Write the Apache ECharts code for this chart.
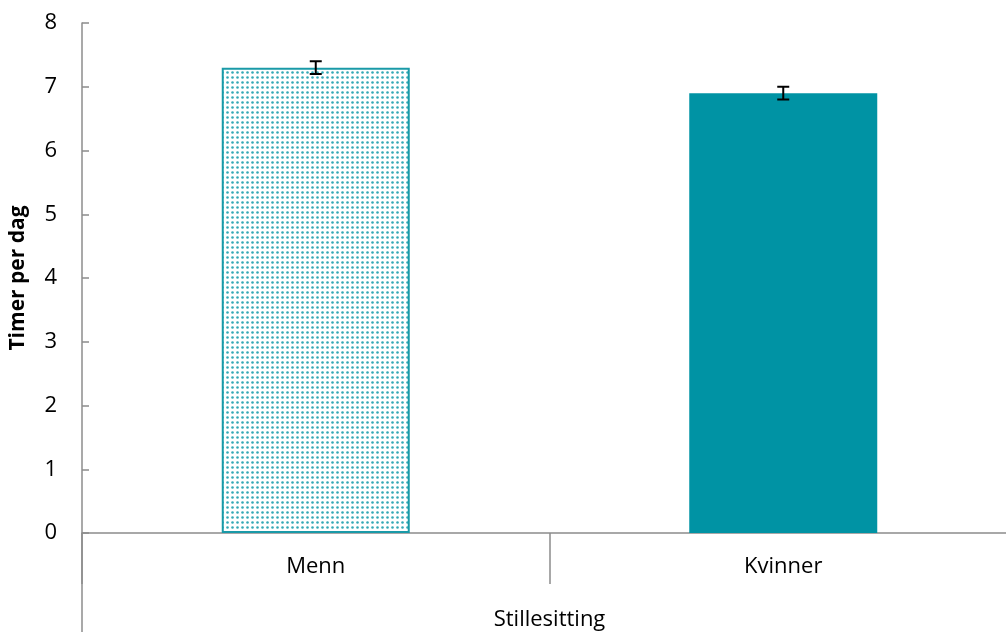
<!DOCTYPE html>
<html>
<head>
<meta charset="utf-8">
<script src="https://cdn.jsdelivr.net/npm/echarts@6/dist/echarts.min.js"></script>
<style>
  html, body { margin: 0; padding: 0; background: #fff; }
  #chart { width: 1006px; height: 632px; }
</style>
</head>
<body>
<div id="chart"></div>
<script>
// Hours of sedentary time per day, by sex
const categories = ['Menn', 'Kvinner'];
const groupLabel = 'Stillesitting';
const values = [7.3, 6.9];
const errLow = [7.2, 6.8];
const errHigh = [7.4, 7.0];
const yTicks = [0, 1, 2, 3, 4, 5, 6, 7, 8];

const TEAL = '#0093A4';
const FONT = '"Open Sans", "Liberation Sans", sans-serif';

// dotted fill for the first bar
function dotPattern() {
  const c = document.createElement('canvas');
  c.width = 5; c.height = 5;
  const g = c.getContext('2d');
  g.fillStyle = '#ffffff';
  g.fillRect(0, 0, 5, 5);
  g.fillStyle = 'rgba(0,147,164,0.8)';
  g.beginPath();
  g.arc(2.5, 2.5, 1.3, 0, Math.PI * 2);
  g.fill();
  return c;
}

const chart = echarts.init(document.getElementById('chart'));

const barData = values.map((v, i) => i === 0
  ? { value: v, itemStyle: { color: { image: dotPattern(), repeat: 'repeat' }, borderColor: '#1a9aa8', borderWidth: 2 } }
  : { value: v, itemStyle: { color: TEAL } });

const errData = categories.map((c, i) => [i, errLow[i], errHigh[i]]);

chart.setOption({
  animation: false,
  grid: { left: 82, top: 23, width: 935, bottom: 99, containLabel: false, outerBoundsMode: 'none' },
  xAxis: {
    type: 'category',
    data: categories,
    name: groupLabel,
    nameLocation: 'middle',
    nameGap: 76,
    nameTextStyle: { fontFamily: FONT, fontSize: 22, color: '#000' },
    axisLine: { lineStyle: { color: '#8c8c8c', width: 1.5 } },
    axisTick: { show: true, alignWithLabel: false, length: 51, lineStyle: { color: '#8c8c8c', width: 1.5 } },
    axisLabel: { fontFamily: FONT, fontSize: 22, color: '#000', margin: 23 }
  },
  yAxis: {
    type: 'value',
    min: yTicks[0],
    max: yTicks[yTicks.length - 1],
    interval: 1,
    name: 'Timer per dag',
    nameLocation: 'middle',
    nameGap: 53,
    nameRotate: 90,
    nameTextStyle: { fontFamily: FONT, fontSize: 21, fontWeight: 'bold', color: '#000' },
    axisLine: { show: true, lineStyle: { color: '#8c8c8c', width: 1.5 } },
    axisTick: { show: true, inside: true, length: 7, lineStyle: { color: '#8c8c8c', width: 1.5 } },
    splitLine: { show: false },
    axisLabel: { fontFamily: FONT, fontSize: 22, color: '#000', margin: 25 }
  },
  series: [
    {
      type: 'bar',
      data: barData,
      barWidth: 188,
      z: 2
    },
    {
      type: 'custom',
      data: errData,
      z: 5,
      renderItem: function (params, api) {
        const x = api.value(0);
        const lo = api.coord([x, api.value(1)]);
        const hi = api.coord([x, api.value(2)]);
        const half = 6;
        const style = { stroke: '#000', lineWidth: 2 };
        return {
          type: 'group',
          children: [
            { type: 'line', shape: { x1: lo[0], y1: lo[1], x2: hi[0], y2: hi[1] }, style },
            { type: 'line', shape: { x1: hi[0] - half, y1: hi[1], x2: hi[0] + half, y2: hi[1] }, style },
            { type: 'line', shape: { x1: lo[0] - half, y1: lo[1], x2: lo[0] + half, y2: lo[1] }, style }
          ]
        };
      }
    }
  ]
});

// the value axis line continues down through the category label area
const gridRect = chart.getModel().getComponent('grid').coordinateSystem.getRect();
chart.setOption({
  graphic: [{
    type: 'line',
    shape: { x1: gridRect.x, y1: gridRect.y + gridRect.height, x2: gridRect.x, y2: 632 },
    style: { stroke: '#8c8c8c', lineWidth: 1.5 },
    z: 10
  }]
});
</script>
</body>
</html>
